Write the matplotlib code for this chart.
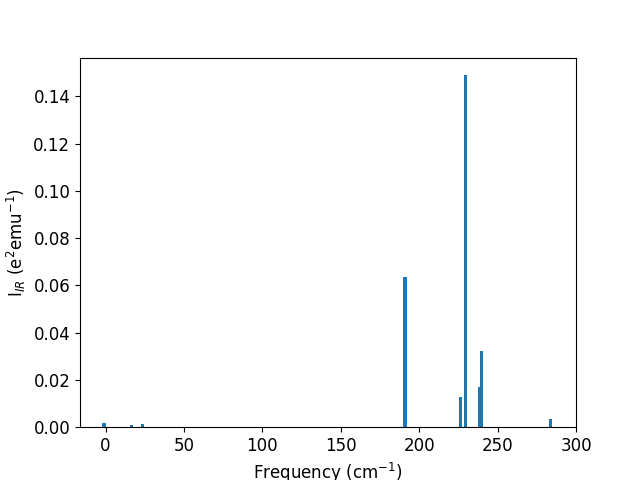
import matplotlib
matplotlib.use('agg')
from matplotlib import pyplot as plt

# IR modes
freqs = [-1.0, 16.3, 23.3, 190.9, 226.6, 229.8, 238.4, 240.0, 283.6]
intensities = [0.0017, 0.0008, 0.0013, 0.0634, 0.0127, 0.1489, 0.0169, 0.0321, 0.0034]

plt.rcParams['font.size'] = 12

fig, ax = plt.subplots(figsize=(6.4, 4.8), dpi=100)
ax.bar(freqs, intensities, width=2.0, color='tab:blue')
ax.set_xlim(right=300)
ax.set_xlabel(r'Frequency (cm$^{-1}$)')
ax.set_ylabel(r'I$_{IR}$ (e$^2$emu$^{-1}$)')

fig.savefig('out.png', dpi=100)
plt.close(fig)
